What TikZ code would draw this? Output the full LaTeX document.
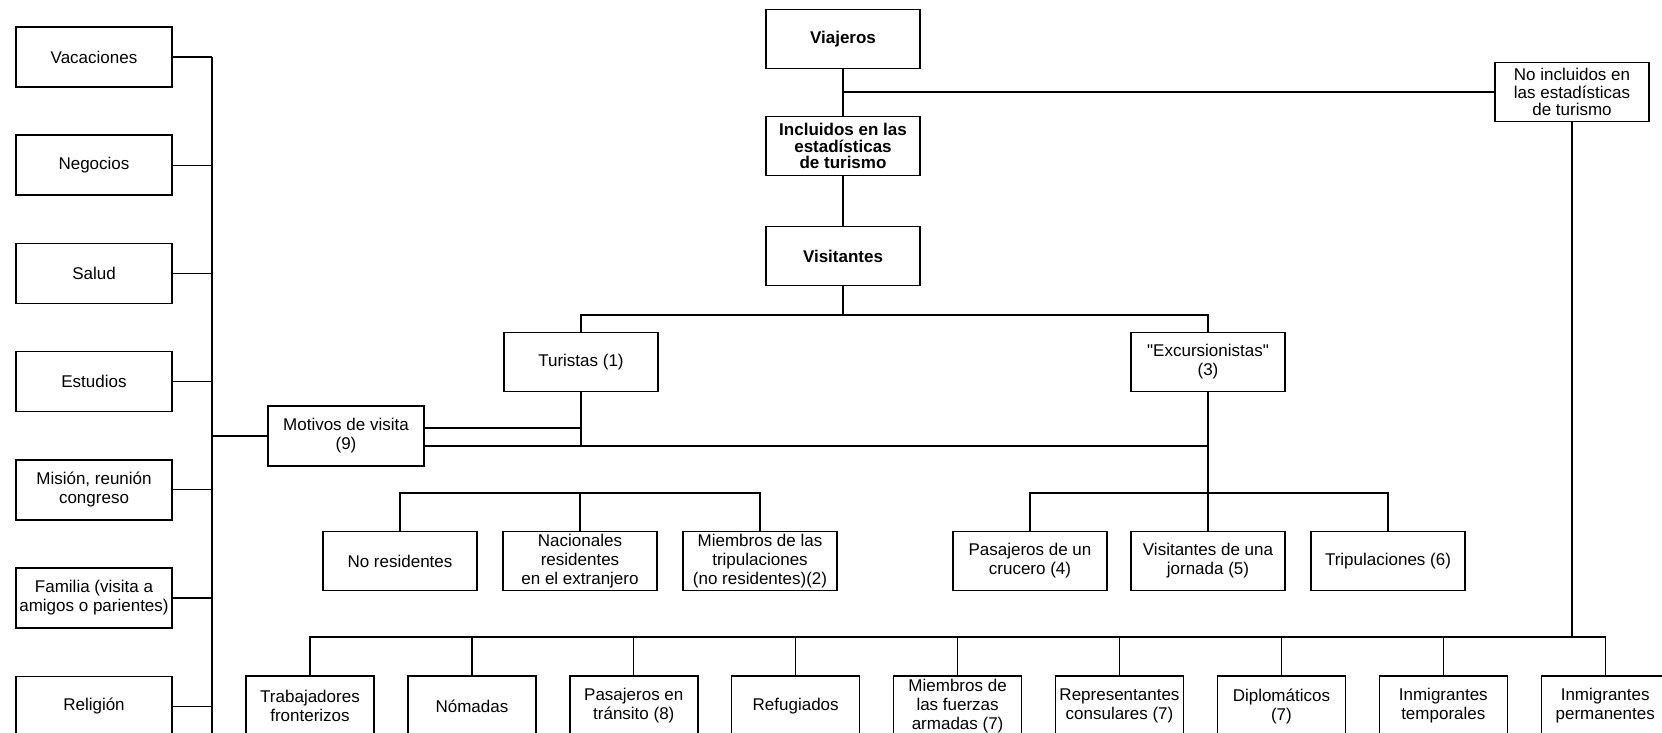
\documentclass[tikz,border=0pt]{standalone}
\usepackage{fontspec}
\setmainfont{Liberation Sans}
\usetikzlibrary{positioning}
\tikzset{
  box/.style      = {rectangle, draw=black, line width=0.7pt, align=center,
                     inner xsep=1.5pt, inner ysep=1pt, font=\fontsize{8.5}{9.5}\selectfont},
  motbox/.style   = {box, minimum width=78pt, minimum height=30pt},
  midbox/.style   = {box, minimum width=77pt, minimum height=29.5pt},
  topbox/.style   = {midbox, font=\fontsize{8.5}{8.4}\selectfont\bfseries},
  lowbox/.style   = {box, minimum width=64pt, minimum height=30pt},
  link/.style     = {draw=black, line width=0.6pt},
  heavylink/.style= {draw=black, line width=1pt},
}
\begin{document}
\begin{tikzpicture}[x=0.5pt, y=-0.5pt]
\useasboundingbox (0,0) rectangle (1662,733);

% ===================== Motivos (columna izquierda) =====================
\foreach \txt [count=\i] in {Vacaciones, Negocios, Salud, Estudios,
    {Misión, reunión\\congreso}, {Familia (visita a\\amigos o parientes)}, Religión}{
  \node[motbox] (m\i) at (94, {57+108.2*(\i-1)}) {\txt};
}
\node[motbox] (motivos) at (346,436) {Motivos de visita\\(9)};

\coordinate (spinetop) at (212,57);
\coordinate (spinebot) at (212,745);
\draw[link] (spinetop) -- (spinebot);
\foreach \i in {1,...,7}{
  \draw[link] (m\i.east) -- (m\i.east -| spinetop);
}
\draw[link] (motivos.west) -- (motivos.west -| spinetop);

% ===================== Viajeros =====================
\node[topbox] (viajeros)   at (843,39)  {Viajeros};
\node[topbox] (incluidos)  at (843,146) {Incluidos en las\\estadísticas\\de turismo};
\node[topbox] (visitantes) at (843,256) {Visitantes};
\node[midbox, font=\fontsize{8.5}{8.6}\selectfont] (noinc) at (1572,92)
      {No incluidos en\\las estadísticas\\de turismo};

\coordinate (vjbranch) at (843,92);
\draw[link] (viajeros.south) -- (incluidos.north);
\draw[link] (vjbranch) -- (noinc.west);
\draw[link] (incluidos.south) -- (visitantes.north);

% ===================== Turistas / Excursionistas =====================
\node[midbox] (turistas)  at (581,362)  {Turistas (1)};
\node[midbox] (excurs)    at (1208,362) {\textquotedbl Excursionistas\textquotedbl\\(3)};

\coordinate (vbar) at (843,315);
\draw[link] (visitantes.south) -- (vbar);
\draw[heavylink] (turistas.north) |- (vbar) -| (excurs.north);

\coordinate (mhi) at ([yshift=4pt]motivos.east);
\coordinate (mlo) at ([yshift=-5pt]motivos.east);
\draw[link] (mhi) -- (mhi -| turistas.south);
\draw[link] (turistas.south) -- (turistas.south |- mlo);
\draw[link] (mlo) -- (mlo -| excurs.south);

% ===================== Tipos de turistas =====================
\node[midbox] (nores)    at (400,561) {No residentes};
\node[midbox] (nacres)   at (580,561) {Nacionales\\residentes\\en el extranjero};
\node[midbox] (triptur)  at (760,561) {Miembros de las\\tripulaciones\\(no residentes)(2)};

\coordinate (tbar) at (580,493);
\draw[link] (nores.north) |- (tbar) -| (triptur.north);
\draw[link] (nacres.north) -- (tbar);

% ===================== Tipos de excursionistas =====================
\node[midbox] (crucero)  at (1030,561) {Pasajeros de un\\crucero (4)};
\node[midbox] (jornada)  at (1208,561) {Visitantes de una\\jornada (5)};
\node[midbox] (tripexc)  at (1388,561) {Tripulaciones (6)};

\coordinate (ebar) at (1208,493);
\draw[link] (excurs.south) -- (ebar);
\draw[link] (crucero.north) |- (ebar) -| (tripexc.north);
\draw[link] (jornada.north) -- (ebar);

% ===================== No incluidos =====================
\foreach \txt [count=\i] in {{Trabajadores\\fronterizos}, Nómadas, {Pasajeros en\\tránsito (8)},
    Refugiados, {Miembros de\\las fuerzas\\armadas (7)}, {Representantes\\consulares (7)},
    {Diplomáticos\\(7)}, {Inmigrantes\\temporales}, {Inmigrantes\\permanentes}}{
  \node[lowbox] (b\i) at ({310+161.9*(\i-1)}, 706) {\txt};
}

\coordinate (nbar) at (1572,637);
\draw[link] (noinc.south) -- (nbar);
\draw[link] (b1.north) |- (nbar) -| (b9.north);
\foreach \i in {2,...,8}{
  \draw[link] (b\i.north) -- (b\i.north |- nbar);
}

\end{tikzpicture}
\end{document}
